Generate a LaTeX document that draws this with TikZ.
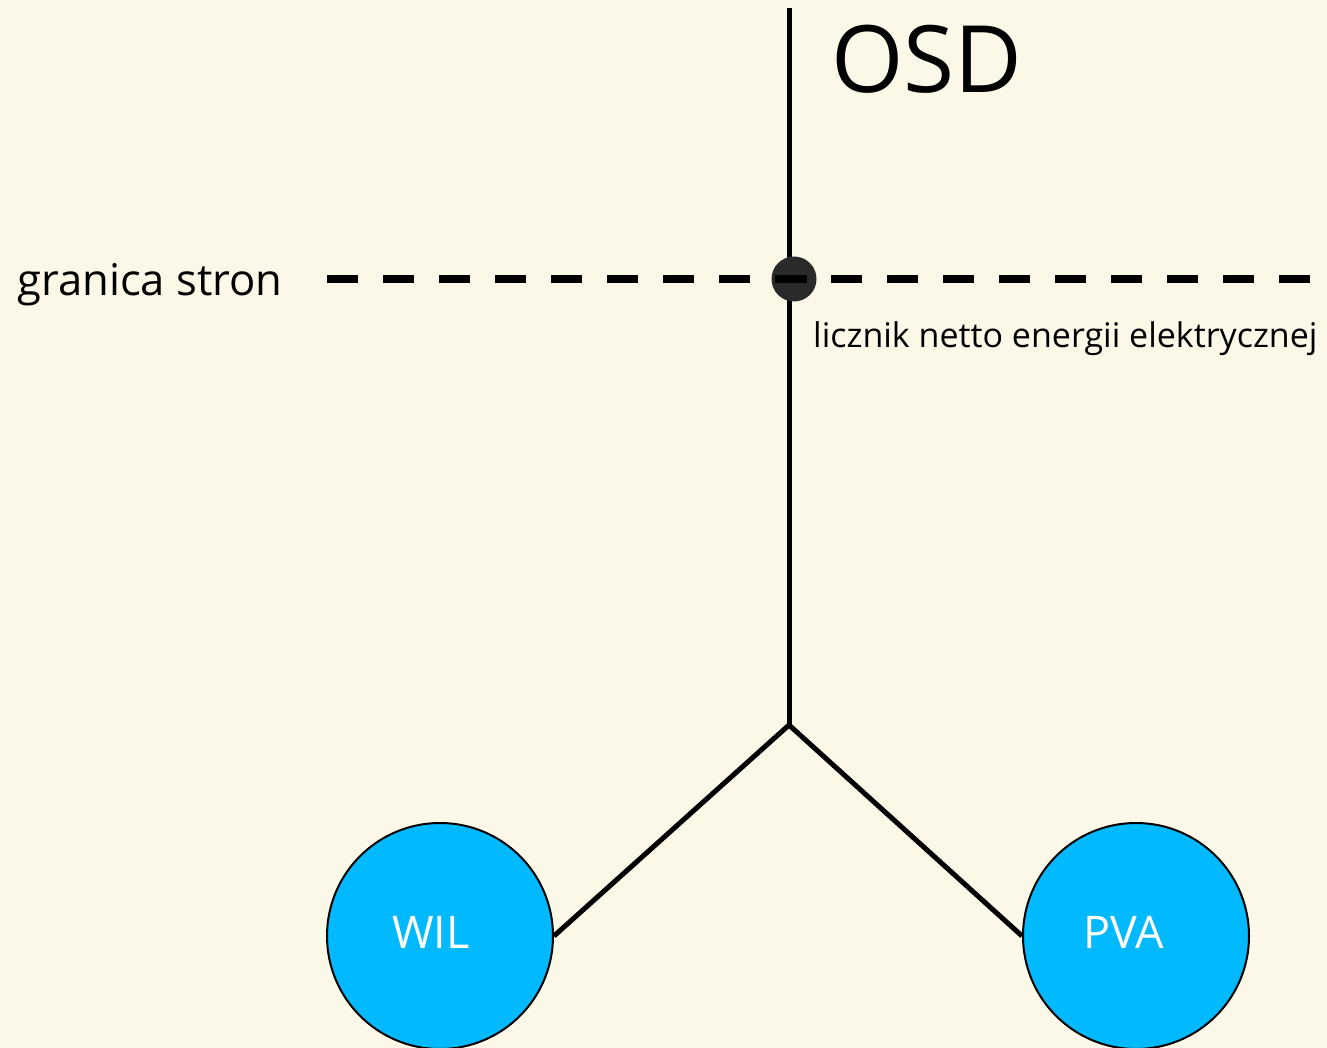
\documentclass[tikz,border=0pt]{standalone}
\usepackage{fontspec}
\setmainfont{Open Sans}
\usetikzlibrary{positioning}
\definecolor{paper}{HTML}{FCF8E8}
\definecolor{devblue}{HTML}{00B9FF}
\definecolor{meterdark}{HTML}{2A2A2A}

\begin{document}
\begin{tikzpicture}[x=1pt, y=-1pt]
        \tikzstyle{dev}=[draw, circle, line width=2pt, fill=devblue, minimum size=226pt, inner sep=0pt];
        \tikzstyle{devtext}=[text=white, font=\fontsize{45}{48}\selectfont, inner sep=0pt];
        \tikzstyle{wire}=[line width=5pt];
        \tikzstyle{label}=[inner sep=0pt, anchor=base west];
        \fill[paper] (0,0) rectangle (1327,1048);
        \useasboundingbox (0,0) rectangle (1327,1048);

        \coordinate (top) at (789,8);
        \coordinate (split) at (789,725);
        \coordinate (borderL) at (327,279);
        \coordinate (borderR) at (1313,279);

        \node[dev] (wil) at (440,936) {};
        \node[dev] (pva) at (1136,936) {};
        \node[devtext] at (431,932) {WIL};
        \node[devtext] at (1124,932) {PVA};

        \draw[wire] (top) -- (split);
        \draw[wire] (split) -- (wil.east);
        \draw[wire] (split) -- (pva.west);
        \draw[line width=8pt, dash pattern=on 31pt off 25pt] (borderL) -- (borderR);

        \node[circle, fill=meterdark, minimum size=45pt, inner sep=0pt] (meter) at (794,279) {};
        \draw[line width=8pt] ([xshift=-19pt]meter.center) -- ([xshift=13pt]meter.center);

        \node[label, font=\fontsize{93}{96}\selectfont] (osd) at (831,93) {OSD};
        \node[label, font=\fontsize{43.6}{47}\selectfont] (border) at (17,296) {granica stron};
        \node[label, font=\fontsize{34}{37}\selectfont] (meterlbl) at (813,347) {licznik netto energii elektrycznej};
\end{tikzpicture}
\end{document}
